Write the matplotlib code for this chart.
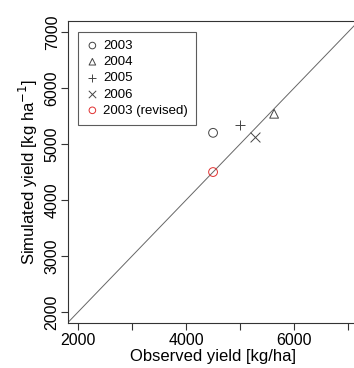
import matplotlib
matplotlib.use("Agg")
import matplotlib.pyplot as plt
from matplotlib.ticker import NullFormatter

plt.rcParams['font.family'] = ['Liberation Sans', 'DejaVu Sans']

# observed / simulated yields (kg/ha)
labels = ['2003', '2004', '2005', '2006', '2003 (revised)']
observed = [4500, 5630, 5000, 5280, 4500]
simulated = [5200, 5540, 5340, 5125, 4500]
markers = ['o', '^', '+', 'x', 'o']
colors = ['#444444', '#444444', '#444444', '#444444', '#e03030']

x_major = [2000, 4000, 6000]
x_minor = [3000, 5000, 7000]
y_ticks = [2000, 3000, 4000, 5000, 6000, 7000]

fig = plt.figure(figsize=(3.54, 3.68), dpi=100)
ax = fig.add_axes([0.192, 0.122, 0.822, 0.821])

# 1:1 line
ax.plot([0, 10000], [0, 10000], color='#666666', lw=0.7, zorder=1)

for lab, xo, ys, m, c in zip(labels, observed, simulated, markers, colors):
    if m in ('+', 'x'):
        ax.scatter(xo, ys, marker=m, s=50, color=c, linewidths=0.7, label=lab, zorder=3)
    else:
        ax.scatter(xo, ys, marker=m, s=40, facecolors='none', edgecolors=c,
                   linewidths=0.7, label=lab, zorder=3)

ax.set_xlim(1815, 7200)
ax.set_ylim(1804, 7196)
ax.set_xticks(x_major)
ax.set_xticks(x_minor, minor=True)
ax.xaxis.set_minor_formatter(NullFormatter())
ax.set_yticks(y_ticks)
for lbl in ax.get_yticklabels():
    lbl.set_rotation(90)
    lbl.set_va('center')

ax.tick_params(axis='both', which='both', direction='out', length=5, width=0.8,
               color='#333333', labelsize=11.5, pad=2)
ax.tick_params(axis='y', pad=1)
for s in ax.spines.values():
    s.set_color('#333333')
    s.set_linewidth(0.8)

ax.set_xlabel('Observed yield [kg/ha]', fontsize=12, labelpad=1)
ax.set_ylabel('Simulated yield [kg ha$^{-1}$]', fontsize=12, labelpad=3)

leg = ax.legend(loc='upper left', bbox_to_anchor=(0.034, 0.964), borderaxespad=0,
                fontsize=9.5, frameon=True, fancybox=False, edgecolor='#333333',
                handletextpad=0.3, labelspacing=0.3, borderpad=0.6,
                handlelength=1.0, markerscale=0.75, scatterpoints=1)
leg.get_frame().set_linewidth(0.8)

fig.savefig('out.png', dpi=100)
